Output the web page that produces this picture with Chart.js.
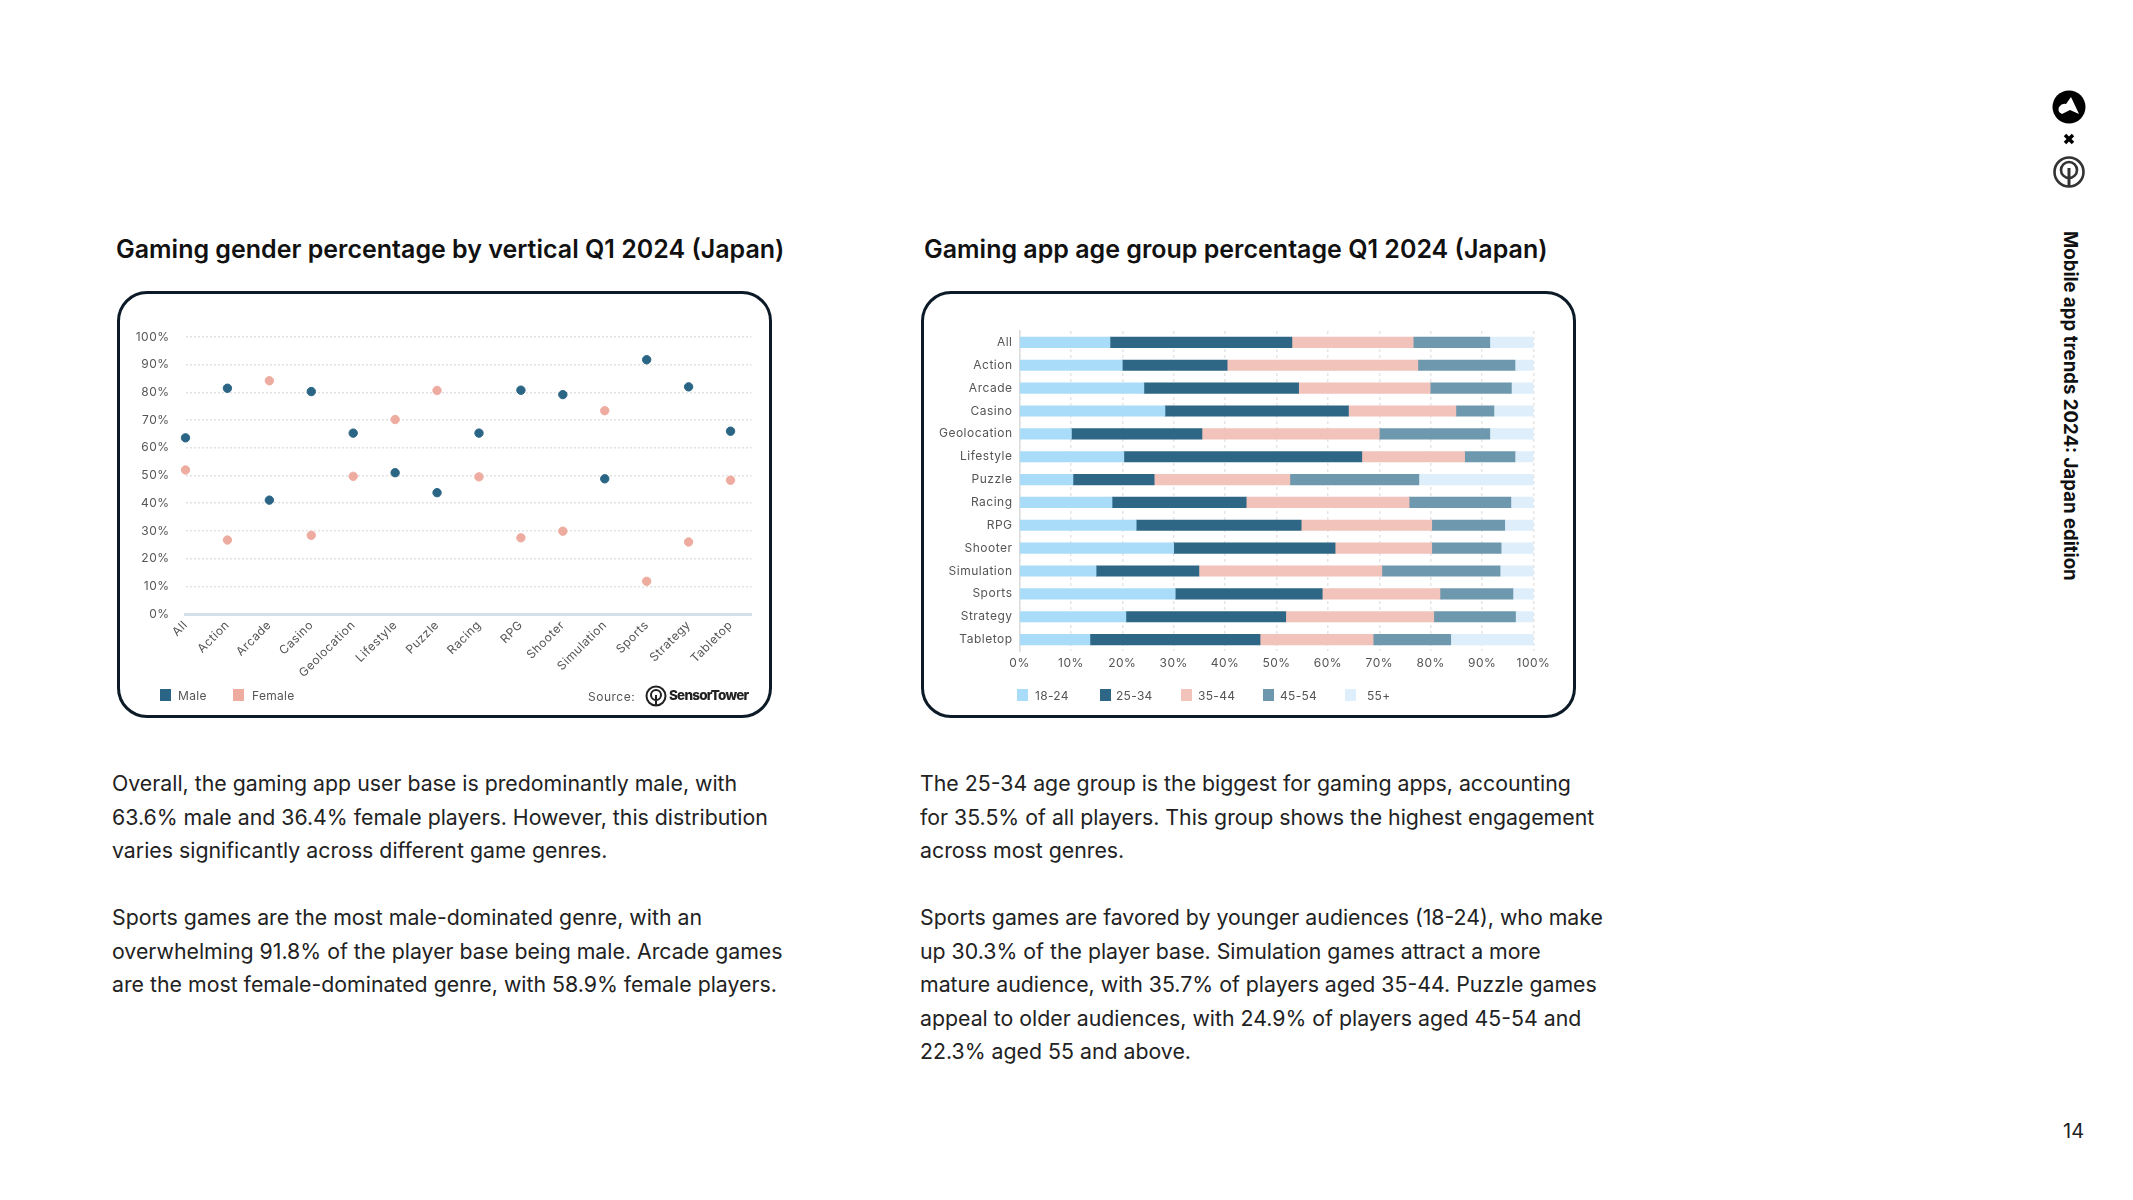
<!DOCTYPE html>
<html>
<head>
<meta charset="utf-8">
<title>Mobile app trends 2024: Japan edition</title>
<script src="https://cdn.jsdelivr.net/npm/chart.js@4"></script>
<style>
  html, body { margin: 0; padding: 0; background: #fff; }
  body { position: relative; width: 2133px; height: 1200px; overflow: hidden; font-family: Inter, "Noto Sans", sans-serif; color: #1a1a1a; }
  .abs { position: absolute; }
  .title { font-size: 25px; font-weight: 600; white-space: nowrap; color: #111; }
  .para { font-size: 21.3px; line-height: 33.5px; white-space: nowrap; color: #222; }
  .card { position: absolute; box-sizing: border-box; border: 3px solid #0b1a26; border-radius: 30px; top: 291px; height: 427px; width: 655px; }
  .chart-box { position: absolute; top: 291px; height: 427px; width: 655px; }
  .legend { position: absolute; top: 689px; height: 13px; font-size: 12px; color: #555; letter-spacing: 0.3px; }
  .legend span.item { position: absolute; top: -1px; white-space: nowrap; }
  .legend i { position: absolute; top: 0; width: 11px; height: 12px; }
  .side { transform-origin: 0 0; transform: rotate(90deg); font-size: 18.6px; font-weight: 700; white-space: nowrap; color: #111; }
</style>
</head>
<body>
<div class="abs title" style="left:116px;top:234px">Gaming gender percentage by vertical Q1 2024 (Japan)</div>
<div class="abs title" style="left:924px;top:234px">Gaming app age group percentage Q1 2024 (Japan)</div>

<div class="card" style="left:116.5px"></div>
<div class="card" style="left:920.5px"></div>
<div class="chart-box" style="left:116.5px"><canvas id="gender-chart"></canvas></div>
<div class="chart-box" style="left:920.5px"><canvas id="age-chart"></canvas></div>
<div class="legend" id="gender-legend" style="left:0"></div>
<div class="legend" id="age-legend" style="left:0"></div>

<div class="abs" style="left:588px;top:689px;font-size:12px;color:#555;letter-spacing:.5px">Source:</div>
<svg class="abs" style="left:645px;top:685px" width="22" height="22" viewBox="0 0 22 22">
  <circle cx="11" cy="11" r="9.5" fill="none" stroke="#222" stroke-width="2"/>
  <circle cx="11" cy="10" r="5" fill="none" stroke="#222" stroke-width="2"/>
  <line x1="11" y1="10" x2="11" y2="20" stroke="#222" stroke-width="2"/>
</svg>
<div class="abs" style="left:669px;top:687px;font-size:13.5px;font-weight:800;letter-spacing:-.8px;color:#222">SensorTower</div>

<div class="abs para" style="left:112px;top:767px">Overall, the gaming app user base is predominantly male, with<br>63.6% male and 36.4% female players. However, this distribution<br>varies significantly across different game genres.<br><br>Sports games are the most male-dominated genre, with an<br>overwhelming 91.8% of the player base being male. Arcade games<br>are the most female-dominated genre, with 58.9% female players.</div>
<div class="abs para" style="left:920px;top:767px">The 25-34 age group is the biggest for gaming apps, accounting<br>for 35.5% of all players. This group shows the highest engagement<br>across most genres.<br><br>Sports games are favored by younger audiences (18-24), who make<br>up 30.3% of the player base. Simulation games attract a more<br>mature audience, with 35.7% of players aged 35-44. Puzzle games<br>appeal to older audiences, with 24.9% of players aged 45-54 and<br>22.3% aged 55 and above.</div>

<svg class="abs" style="left:2052px;top:90px" width="34" height="100" viewBox="0 0 34 100">
  <circle cx="17" cy="17" r="16.5" fill="#000"/>
  <path d="M19 7 L27 24 L18 20 L10 24 Q5 22 7 17 Q10 13 14 14 Z" fill="#fff"/>
  <path d="M13 45 L21 53 M21 45 L13 53" stroke="#000" stroke-width="3.5"/>
  <circle cx="17" cy="82" r="14.5" fill="none" stroke="#333" stroke-width="2.6"/>
  <circle cx="17" cy="80" r="8" fill="none" stroke="#333" stroke-width="2.6"/>
  <line x1="17" y1="78" x2="17" y2="96" stroke="#333" stroke-width="3"/>
</svg>
<div class="abs side" style="left:2082px;top:231px">Mobile app trends 2024: Japan edition</div>
<div class="abs" style="left:2063px;top:1119px;font-size:20px;color:#222">14</div>

<script>
// Data
const verticals = ['All', 'Action', 'Arcade', 'Casino', 'Geolocation', 'Lifestyle', 'Puzzle', 'Racing', 'RPG', 'Shooter', 'Simulation', 'Sports', 'Strategy', 'Tabletop'];
const maleShare = [63.6, 81.5, 41.1, 80.3, 65.3, 51, 43.8, 65.3, 80.8, 79.2, 48.8, 91.8, 82, 66];
const femaleShare = [52, 26.7, 84.2, 28.4, 49.7, 70.2, 80.7, 49.5, 27.5, 29.9, 73.4, 11.8, 26, 48.3];
const age18to24 = [17.6, 20, 24.2, 28.3, 10.1, 20.3, 10.4, 18, 22.7, 30, 14.9, 30.3, 20.7, 13.7];
const age25to34 = [35.4, 20.4, 30.1, 35.7, 25.4, 46.3, 15.8, 26.1, 32.1, 31.4, 20, 28.6, 31.1, 33.1];
const age35to44 = [23.6, 37.1, 25.6, 20.9, 34.5, 20, 26.4, 31.7, 25.4, 18.8, 35.6, 22.9, 28.8, 22];
const age45to54 = [14.9, 18.9, 15.8, 7.4, 21.5, 9.8, 25.1, 19.8, 14.2, 13.5, 23, 14.2, 15.9, 15.1];
const age55plus = [8.5, 3.6, 4.3, 7.7, 8.5, 3.6, 22.3, 4.4, 5.6, 6.3, 6.5, 4, 3.5, 16.1];

const tickFont = { family: 'Inter', size: 12 };
const tickColor = '#555';
Chart.defaults.animation = false;

// Chart.js has no letter spacing option, the reference labels are set wide
Chart.register({
  id: 'wideLabels',
  beforeDraw(chart) { chart.ctx.letterSpacing = '0.5px'; }
});

function pct(v) { return v + '%'; }

// Gender chart
const genderDatasets = [
  { label: 'Male', data: maleShare.map((v, i) => ({ x: i, y: v })), backgroundColor: '#2b6585', borderColor: '#2b6585', pointRadius: 4.2, clip: false },
  { label: 'Female', data: femaleShare.map((v, i) => ({ x: i, y: v })), backgroundColor: '#eeaca0', borderColor: '#eeaca0', pointRadius: 4.2, clip: false }
];
new Chart(document.getElementById('gender-chart').getContext('2d'), {
  type: 'scatter',
  data: { datasets: genderDatasets },
  options: {
    responsive: true,
    maintainAspectRatio: false,
    layout: { padding: { top: 46, right: 20.5, bottom: 0, left: 0 } },
    plugins: { legend: { display: false }, tooltip: { enabled: false } },
    scales: {
      x: {
        type: 'linear',
        min: 0,
        max: 13.5,
        afterFit: s => { s.height = 104; },
        grid: { display: false, drawTicks: false },
        border: { display: true, color: '#d5dfe8', width: 3 },
        ticks: {
          stepSize: 1,
          includeBounds: false,
          autoSkip: false,
          maxRotation: 45,
          minRotation: 45,
          padding: 4,
          color: tickColor,
          font: tickFont,
          callback: v => verticals[v]
        }
      },
      y: {
        min: 0,
        max: 100,
        afterFit: s => { s.width = 68.5; },
        grid: { color: '#e2e2e2', lineWidth: 1.5, drawTicks: false },
        border: { display: false, dash: [2, 2] },
        ticks: { stepSize: 10, padding: 16, color: tickColor, font: tickFont, callback: pct }
      }
    }
  }
});

// Age chart
const ageDatasets = [
  { label: '18-24', data: age18to24, backgroundColor: '#a8dcf8' },
  { label: '25-34', data: age25to34, backgroundColor: '#2e6785' },
  { label: '35-44', data: age35to44, backgroundColor: '#f2c3bb' },
  { label: '45-54', data: age45to54, backgroundColor: '#6e98ad' },
  { label: '55+', data: age55plus, backgroundColor: '#deeffb' }
];
ageDatasets.forEach(d => { d.barThickness = 10.5; });
new Chart(document.getElementById('age-chart').getContext('2d'), {
  type: 'bar',
  data: { labels: verticals, datasets: ageDatasets },
  options: {
    responsive: true,
    maintainAspectRatio: false,
    indexAxis: 'y',
    layout: { padding: { top: 40, right: 42.5, bottom: 0, left: 0 } },
    plugins: { legend: { display: false }, tooltip: { enabled: false } },
    scales: {
      x: {
        stacked: true,
        min: 0,
        max: 100,
        afterFit: s => { s.height = 67; },
        grid: { color: '#e6e6e6', lineWidth: 1.5, drawTicks: false },
        border: { display: false, dash: [3, 3] },
        ticks: { stepSize: 10, padding: 5, color: tickColor, font: tickFont, callback: pct }
      },
      y: {
        stacked: true,
        afterFit: s => { s.width = 98.5; },
        grid: { display: false, drawTicks: false },
        border: { display: true, color: '#dcdcdc', width: 1.5 },
        ticks: { padding: 7, autoSkip: false, color: tickColor, font: tickFont }
      }
    }
  }
});

// Legends built from the datasets
function buildLegend(id, datasets, boxLefts, textLefts) {
  const el = document.getElementById(id);
  datasets.forEach((d, i) => {
    const box = document.createElement('i');
    box.style.left = boxLefts[i] + 'px';
    box.style.background = d.backgroundColor;
    const txt = document.createElement('span');
    txt.className = 'item';
    txt.style.left = textLefts[i] + 'px';
    txt.textContent = d.label;
    el.appendChild(box);
    el.appendChild(txt);
  });
}
buildLegend('gender-legend', genderDatasets, [160, 233], [178, 252]);
buildLegend('age-legend', ageDatasets, [1017, 1100, 1181, 1263, 1345], [1035, 1116, 1198, 1280, 1367]);
</script>
</body>
</html>
